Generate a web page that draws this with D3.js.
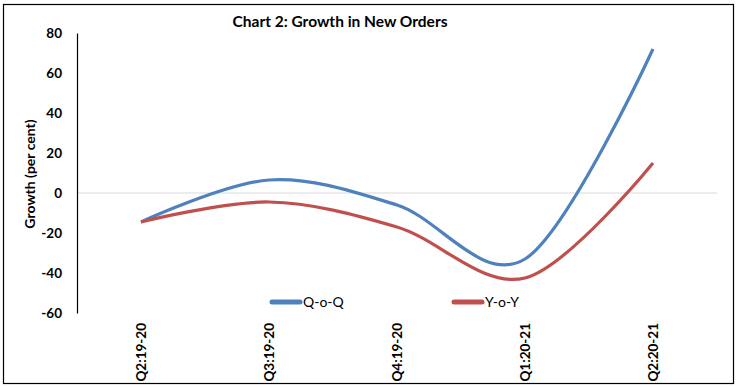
<!DOCTYPE html>
<html>
<head>
<meta charset="utf-8">
<script src="https://cdn.jsdelivr.net/npm/d3@7"></script>
<style>
  body { margin: 0; background: #fff; }
  svg { font-family: Lato, "Liberation Sans", sans-serif; }
</style>
</head>
<body>
<div id="chart"></div>
<script>
"use strict";
// Data
const quarters = ["Q2:19-20", "Q3:19-20", "Q4:19-20", "Q1:20-21", "Q2:20-21"];
const qoq = [-14.5, 6.5, -6, -33, 72];
const yoy = [-14.5, -4.5, -17, -42.5, 15];
const yTicks = [80, 60, 40, 20, 0, -20, -40, -60];

const series = [
    { name: "Q-o-Q", values: qoq, color: "#4F81BD" },
    { name: "Y-o-Y", values: yoy, color: "#C0504D" }
];

const W = 740, H = 387;
let svg = d3.select("#chart").append("svg")
    .attr("width", W)
    .attr("height", H);

// outer frame
svg.append("rect")
    .attr("x", 3.5).attr("y", 4.5)
    .attr("width", 730).attr("height", 379)
    .attr("fill", "none")
    .attr("stroke", "#000")
    .attr("stroke-width", 1.2);

let x = d3.scaleBand().domain(quarters).range([77, 717]);
let y = d3.scaleLinear().domain([-60, 80]).range([313, 33]);

// zero line
svg.append("line")
    .attr("x1", 77).attr("x2", 717)
    .attr("y1", y(0)).attr("y2", y(0))
    .attr("stroke", "#D9D9D9")
    .attr("stroke-width", 1);

// y axis
let yAxis = svg.append("g")
    .attr("transform", "translate(77,0)")
    .call(d3.axisLeft(y).tickValues(yTicks).tickSize(0).tickPadding(15)
        .tickFormat(d => String(d)));
yAxis.select(".domain").attr("stroke", "#000").attr("stroke-width", 1.2);
yAxis.selectAll("text")
    .attr("font-family", "Lato, sans-serif")
    .attr("font-size", 13.5)
    .attr("font-weight", "bold")
    .attr("fill", "#000");

// x labels (rotated)
svg.append("g")
    .selectAll("text")
    .data(quarters)
    .enter().append("text")
    .attr("transform", d => "translate(" + (x(d) + x.bandwidth() / 2 + 5) + ",323) rotate(-90)")
    .attr("text-anchor", "end")
    .attr("font-size", 13.5)
    .attr("font-weight", "bold")
    .text(d => d);

// lines
let line = d3.line()
    .x((d, i) => x(quarters[i]) + x.bandwidth() / 2)
    .y(d => y(d))
    .curve(d3.curveCardinal.tension(0));

svg.append("g")
    .selectAll("path")
    .data(series)
    .enter().append("path")
    .attr("d", d => line(d.values))
    .attr("fill", "none")
    .attr("stroke", d => d.color)
    .attr("stroke-width", 3.2)
    .attr("stroke-linejoin", "round");

// title
svg.append("text")
    .attr("x", 340).attr("y", 27)
    .attr("text-anchor", "middle")
    .attr("font-size", 15.5)
    .attr("font-weight", "bold")
    .text("Chart 2: Growth in New Orders");

// y axis title
svg.append("text")
    .attr("transform", "translate(35,174) rotate(-90)")
    .attr("text-anchor", "middle")
    .attr("font-size", 14)
    .attr("font-weight", "bold")
    .text("Growth (per cent)");

// Legend
let legendX = [270, 452];
let legend = svg.append("g")
    .selectAll("g")
    .data(series)
    .enter().append("g")
    .attr("transform", (d, i) => "translate(" + legendX[i] + ",302)");
legend.append("line")
    .attr("x1", 2).attr("x2", 30)
    .attr("stroke", d => d.color)
    .attr("stroke-width", 5)
    .attr("stroke-linecap", "round");
legend.append("text")
    .attr("x", 33).attr("dy", "0.35em")
    .attr("font-size", 14)
    .text(d => d.name);
</script>
</body>
</html>
